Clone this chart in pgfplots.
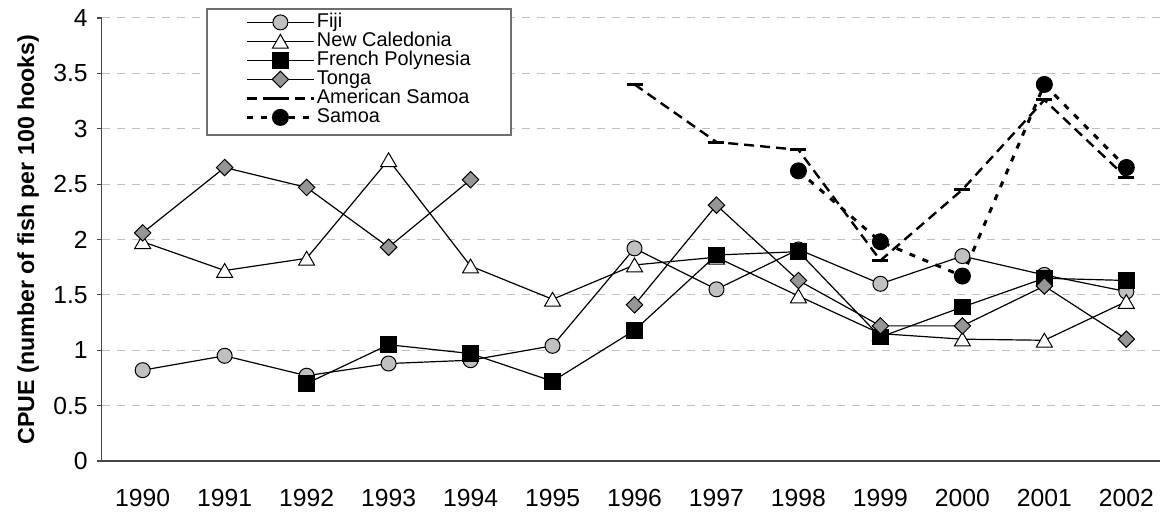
\documentclass[border=0pt]{standalone}
\usepackage{pgfplots}
\usepackage{pgfplotstable}
\pgfplotsset{compat=1.18}
\usepackage{fontspec}
\setmainfont{Liberation Sans}
\definecolor{fijigray}{RGB}{192,192,192}
\definecolor{tongagray}{RGB}{150,150,150}
\definecolor{gridgray}{RGB}{192,192,192}
\definecolor{axisgray}{RGB}{70,70,70}
\definecolor{legframe}{RGB}{110,110,110}

\pgfplotstableread{
x fiji nc fp tonga as samoa
0 0.82 1.98 nan 2.06 nan nan
1 0.95 1.72 nan 2.65 nan nan
2 0.77 1.83 0.70 2.47 nan nan
3 0.88 2.72 1.05 1.93 nan nan
4 0.91 1.76 0.97 2.54 nan nan
5 1.04 1.46 0.72 nan nan nan
6 1.92 1.77 1.18 1.41 3.40 nan
7 1.55 1.84 1.86 2.31 2.88 nan
8 1.91 1.49 1.89 1.63 2.81 2.62
9 1.60 1.15 1.12 1.22 1.81 1.98
10 1.85 1.10 1.39 1.22 2.45 1.67
11 1.68 1.09 1.65 1.58 3.26 3.40
12 1.53 1.44 1.63 1.10 2.56 2.65
}\data

\pgfplotsset{
  legend image code/.code={\draw[mark repeat=2,mark phase=2,#1] plot coordinates {(0pt,0pt) (16.75pt,0pt) (33.5pt,0pt)};}
}

\begin{document}
\begin{tikzpicture}
\begin{axis}[
  scale only axis, width=529.15pt, height=221.5pt,
  at={(0,0)}, anchor=south west,
  xmin=-0.5, xmax=12.411, ymin=0, ymax=4,
  axis x line*=bottom, axis y line*=left,
  axis line style={draw=axisgray, line width=0.75pt, -},
  tick align=outside,
  xtick=\empty,
  minor xtick={-0.5,0.5,1.5,2.5,3.5,4.5,5.5,6.5,7.5,8.5,9.5,10.5,11.5},
  minor tick length=4pt,
  extra x ticks={0,1,2,3,4,5,6,7,8,9,10,11,12},
  extra x tick labels={1990,1991,1992,1993,1994,1995,1996,1997,1998,1999,2000,2001,2002},
  extra x tick style={major tick length=0pt, grid=none},
  ytick={0,0.5,1,1.5,2,2.5,3,3.5,4},
  yticklabels={0,0.5,1,1.5,2,2.5,3,3.5,4},
  major tick length=2.5pt,
  tick style={draw=axisgray, line width=0.6pt},
  ymajorgrids,
  major grid style={draw=gridgray, line width=0.5pt, dash pattern=on 4pt off 3.5pt},
  ticklabel style={font=\fontsize{12.35}{14}\selectfont},
  xticklabel style={anchor=base, yshift=-22.85pt},
  yticklabel style={anchor=east, xshift=-1pt},
  ylabel={CPUE (number of fish per 100 hooks)},
  every axis y label/.style={at={(axis description cs:-0.0696,0.5)}, rotate=90, anchor=center,
    font=\bfseries\fontsize{11.6}{13}\selectfont},
  unbounded coords=jump,
  legend style={at={(axis description cs:0.1354,1.0124)}, anchor=north west,
    draw=none, fill=none,
    font=\fontsize{9.95}{11}\selectfont,
    inner xsep=0pt, inner ysep=0pt, row sep=0pt, column sep=0pt,
    nodes={inner xsep=0.75pt, inner ysep=0.75pt, text height=6.5pt, text depth=1.5pt}},
  legend cell align=left,
  clip=false,
]
\addplot[black, line width=0.6pt, mark=*, mark size=3.75pt,
  mark options={fill=fijigray, draw=black, line width=0.5pt, solid}]
  table[x=x, y=fiji] {\data};
\addlegendentry{Fiji}
\addplot[black, line width=0.6pt, mark=triangle*, mark size=4.6pt,
  mark options={fill=white, draw=black, line width=0.5pt, solid, yshift=-1.1pt}]
  table[x=x, y=nc] {\data};
\addlegendentry{New Caledonia}
\addplot[black, line width=0.6pt, mark=square*, mark size=3.9pt,
  mark options={fill=black, draw=black, line width=0.5pt, solid}]
  table[x=x, y=fp] {\data};
\addlegendentry{French Polynesia}
\addplot[black, line width=0.6pt, mark=square*, mark size=2.9pt,
  mark options={fill=tongagray, draw=black, line width=0.5pt, solid, rotate=45}]
  table[x=x, y=tonga] {\data};
\addlegendentry{Tonga}
\addplot[black, line width=1.2pt, dash pattern=on 5pt off 3pt, mark=-, mark size=4pt,
  mark options={solid, line width=1.5pt}]
  table[x=x, y=as] {\data};
\addlegendentry{American Samoa}
\addplot[black, line width=1.5pt, dash pattern=on 3pt off 4pt, mark=*, mark size=4pt,
  mark options={solid, fill=black, draw=black, line width=0.5pt}]
  table[x=x, y=samoa] {\data};
\addlegendentry{Samoa}
\draw[legframe, line width=0.6pt, fill=white]
  (axis description cs:0.0995,1.0203) rectangle (axis description cs:0.3868,0.7359);
\end{axis}
\pgfresetboundingbox
\path (-50.85pt,-25.5pt) rectangle (529.15pt,230.5pt);
\end{tikzpicture}
\end{document}
